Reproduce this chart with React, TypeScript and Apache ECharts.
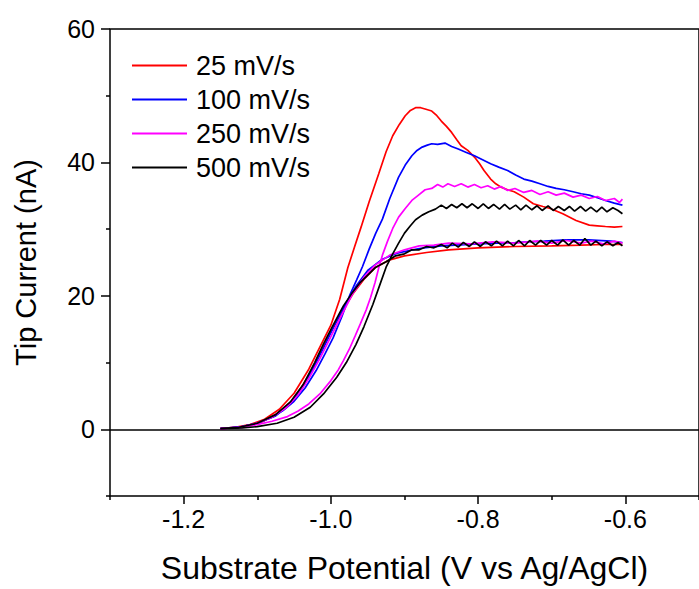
import { useEffect, useRef } from "react";
import * as echarts from "echarts";

const seriesNames = ["25 mV/s", "100 mV/s", "250 mV/s", "500 mV/s"];
const seriesColors = ["#ff0000", "#0000ff", "#ff00ff", "#000000"];

const xMajorTicks = [-1.2, -1.0, -0.8, -0.6];
const xMinorTicks = [-1.3, -1.1, -0.9, -0.7, -0.5];
const yMajorTicks = [0, 20, 40, 60];
const yMinorTicks = [-10, 10, 30, 50];

// 25 mV/s: peaked branch, then plateau branch
const red25Up = [
  [-1.15, 0.1], [-1.13, 0.3], [-1.11, 0.7], [-1.09, 1.5], [-1.07, 3.0], [-1.05, 5.4], [-1.03, 9.0],
  [-1.015, 12.3], [-1.0, 15.6], [-0.988, 19.5], [-0.977, 24.2], [-0.968, 27.3], [-0.959, 30.3],
  [-0.948, 34.1], [-0.935, 38.3], [-0.925, 41.6], [-0.916, 44.0], [-0.907, 45.7], [-0.899, 47.0],
  [-0.892, 47.8], [-0.885, 48.2], [-0.878, 48.2], [-0.872, 48.0], [-0.863, 47.7], [-0.856, 47.0],
  [-0.85, 46.2], [-0.843, 45.4], [-0.836, 44.5], [-0.829, 43.4], [-0.823, 42.5], [-0.814, 41.8],
  [-0.805, 40.8], [-0.798, 39.8], [-0.792, 38.8], [-0.783, 37.5], [-0.776, 36.8], [-0.769, 36.3],
  [-0.76, 35.9], [-0.751, 35.6], [-0.738, 34.8], [-0.725, 33.8], [-0.712, 33.4], [-0.702, 33.1],
  [-0.685, 32.3], [-0.667, 31.3], [-0.649, 30.6], [-0.638, 30.5], [-0.627, 30.4], [-0.615, 30.3],
  [-0.604, 30.4],
];
const red25Down = [
  [-0.604, 27.7], [-0.63, 27.7], [-0.66, 27.6], [-0.7, 27.5], [-0.75, 27.4], [-0.8, 27.2],
  [-0.84, 26.9], [-0.87, 26.5], [-0.9, 26.0], [-0.92, 25.4], [-0.94, 24.2], [-0.955, 22.5],
  [-0.97, 20.3], [-0.985, 17.6], [-1.0, 14.6], [-1.012, 12.0], [-1.025, 9.0], [-1.04, 6.3],
  [-1.055, 4.0], [-1.075, 2.2], [-1.095, 1.0], [-1.12, 0.4], [-1.15, 0.1],
];

const blue100Up = [
  [-1.15, 0.1], [-1.12, 0.4], [-1.1, 0.9], [-1.08, 1.8], [-1.065, 2.8], [-1.05, 4.2], [-1.035, 6.2],
  [-1.02, 8.8], [-1.008, 11.3], [-0.997, 13.7], [-0.985, 16.9], [-0.974, 20.2], [-0.965, 22.4],
  [-0.957, 24.4], [-0.948, 27.0], [-0.939, 29.4], [-0.93, 31.5], [-0.92, 34.6], [-0.908, 37.8],
  [-0.899, 39.6], [-0.89, 41.0], [-0.883, 41.8], [-0.876, 42.3], [-0.869, 42.6], [-0.863, 42.8],
  [-0.855, 42.7], [-0.845, 42.9], [-0.836, 42.4], [-0.827, 42.0], [-0.816, 41.5], [-0.805, 41.0],
  [-0.794, 40.4], [-0.783, 39.8], [-0.772, 39.3], [-0.76, 38.8], [-0.749, 38.1], [-0.738, 37.5],
  [-0.727, 37.2], [-0.716, 36.8], [-0.705, 36.4], [-0.694, 36.1], [-0.683, 35.9], [-0.671, 35.6],
  [-0.66, 35.3], [-0.649, 35.1], [-0.638, 34.7], [-0.627, 34.3], [-0.615, 33.9], [-0.604, 33.6],
];
const blue100Down = [
  [-0.604, 28.0], [-0.62, 28.2], [-0.65, 28.4], [-0.68, 28.4], [-0.71, 28.2], [-0.75, 28.0],
  [-0.8, 27.8], [-0.85, 27.5], [-0.88, 27.1], [-0.91, 26.4], [-0.93, 25.5], [-0.95, 23.8],
  [-0.965, 21.6], [-0.98, 18.8], [-0.995, 15.6], [-1.01, 12.2], [-1.025, 8.9], [-1.04, 6.0],
  [-1.055, 3.8], [-1.075, 2.0], [-1.1, 0.9], [-1.125, 0.3], [-1.15, 0.1],
];

const magenta250Up = [
  [-1.15, 0.1], [-1.12, 0.3], [-1.1, 0.7], [-1.08, 1.2], [-1.059, 1.9], [-1.045, 2.7], [-1.03, 3.8],
  [-1.015, 5.3], [-1.0, 7.3], [-0.99, 8.9], [-0.983, 10.3], [-0.975, 12.0], [-0.967, 14.0],
  [-0.96, 15.8], [-0.952, 17.9], [-0.946, 19.8], [-0.94, 22.0], [-0.935, 24.2], [-0.93, 26.1],
  [-0.923, 28.2], [-0.916, 30.1], [-0.908, 31.8], [-0.899, 33.1], [-0.89, 34.3], [-0.881, 35.1],
  [-0.872, 35.9], [-0.863, 36.1], [-0.855, 36.7], [-0.848, 36.3], [-0.841, 36.8], [-0.832, 36.4],
  [-0.823, 36.8], [-0.814, 36.3], [-0.805, 36.7], [-0.796, 36.2], [-0.787, 36.5], [-0.778, 36.0],
  [-0.769, 36.4], [-0.76, 35.8], [-0.75, 36.1], [-0.738, 35.5], [-0.727, 35.8], [-0.716, 35.2],
  [-0.705, 35.6], [-0.694, 35.1], [-0.683, 35.4], [-0.671, 34.8], [-0.66, 35.1], [-0.649, 34.6],
  [-0.638, 34.9], [-0.627, 34.3], [-0.615, 34.6], [-0.608, 34.0], [-0.604, 34.5],
];
const magenta250Down = [
  [-0.604, 27.9], [-0.615, 28.2], [-0.63, 27.8], [-0.645, 28.2], [-0.66, 27.9], [-0.68, 28.3],
  [-0.7, 27.9], [-0.72, 28.2], [-0.75, 27.9], [-0.78, 28.1], [-0.81, 27.8], [-0.84, 27.9],
  [-0.86, 27.6], [-0.88, 27.5], [-0.9, 26.9], [-0.92, 26.1], [-0.94, 24.6], [-0.955, 22.8],
  [-0.97, 20.4], [-0.985, 17.2], [-1.0, 13.9], [-1.015, 10.6], [-1.03, 7.6], [-1.045, 5.1],
  [-1.06, 3.3], [-1.08, 1.8], [-1.1, 0.9], [-1.125, 0.3], [-1.15, 0.1],
];

const black500Up = [
  [-1.15, 0.1], [-1.12, 0.2], [-1.1, 0.4], [-1.073, 0.9], [-1.05, 1.8], [-1.028, 3.3], [-1.01, 5.3],
  [-0.992, 7.8], [-0.979, 10.0], [-0.966, 12.7], [-0.955, 15.4], [-0.943, 18.7], [-0.934, 21.5],
  [-0.925, 24.3], [-0.916, 26.3], [-0.908, 27.9], [-0.9, 29.4], [-0.892, 30.5], [-0.885, 31.4],
  [-0.876, 32.1], [-0.867, 32.6], [-0.858, 33.0], [-0.85, 33.6], [-0.843, 33.1], [-0.836, 33.7],
  [-0.829, 33.2], [-0.822, 33.8], [-0.815, 33.2], [-0.808, 33.8], [-0.8, 33.1], [-0.793, 33.8],
  [-0.786, 33.1], [-0.779, 33.7], [-0.771, 33.0], [-0.764, 33.7], [-0.757, 33.0], [-0.749, 33.6],
  [-0.742, 32.9], [-0.735, 33.6], [-0.727, 32.9], [-0.72, 33.5], [-0.713, 32.8], [-0.705, 33.5],
  [-0.698, 32.8], [-0.691, 33.4], [-0.683, 32.8], [-0.676, 33.4], [-0.669, 32.7], [-0.661, 33.4],
  [-0.654, 32.7], [-0.647, 33.3], [-0.639, 32.6], [-0.632, 33.3], [-0.625, 32.6], [-0.617, 33.2],
  [-0.61, 32.8], [-0.604, 32.3],
];
const black500Down = [
  [-0.604, 27.5], [-0.61, 28.0], [-0.617, 27.5], [-0.625, 28.1], [-0.632, 27.5], [-0.64, 28.2],
  [-0.647, 27.6], [-0.655, 28.6], [-0.662, 27.6], [-0.67, 28.3], [-0.677, 27.6], [-0.685, 28.4],
  [-0.692, 27.6], [-0.7, 28.3], [-0.707, 27.6], [-0.715, 28.3], [-0.722, 27.6], [-0.73, 28.3],
  [-0.737, 27.5], [-0.745, 28.3], [-0.752, 27.5], [-0.76, 28.2], [-0.767, 27.5], [-0.775, 28.2],
  [-0.782, 27.5], [-0.79, 28.1], [-0.797, 27.4], [-0.805, 28.1], [-0.812, 27.4], [-0.82, 28.0],
  [-0.827, 27.3], [-0.835, 27.9], [-0.842, 27.2], [-0.85, 27.7], [-0.86, 27.2], [-0.87, 27.4],
  [-0.88, 26.9], [-0.89, 26.9], [-0.9, 26.3], [-0.912, 26.0], [-0.925, 25.1], [-0.939, 24.3],
  [-0.95, 23.1], [-0.961, 21.9], [-0.972, 20.3], [-0.983, 18.5], [-0.998, 15.4], [-1.01, 12.8],
  [-1.022, 10.0], [-1.037, 6.8], [-1.055, 4.1], [-1.075, 2.2], [-1.1, 0.9], [-1.125, 0.3],
  [-1.15, 0.1],
];

const branches = [
  [red25Up, red25Down],
  [blue100Up, blue100Down],
  [magenta250Up, magenta250Down],
  [black500Up, black500Down],
];

const FONT = "Liberation Sans";

export default function App() {
  const ref = useRef<HTMLDivElement>(null);

  useEffect(() => {
    if (!ref.current) return;
    const chart = echarts.init(ref.current, null, { renderer: "svg" });

    const tickLabel = { color: "#000", fontSize: 25, fontFamily: FONT };

    const series: any[] = [];
    branches.forEach((pair, i) => {
      pair.forEach((d, j) => {
        series.push({
          name: seriesNames[i],
          type: "line",
          data: d,
          symbol: "none",
          showSymbol: false,
          color: seriesColors[i],
          lineStyle: { color: seriesColors[i], width: 1.7 },
          z: 3 + i,
          ...(i === 0 && j === 0
            ? {
                markLine: {
                  silent: true,
                  symbol: ["none", "none"],
                  label: { show: false },
                  lineStyle: { color: "#000", width: 1.5, type: "solid" },
                  data: [{ yAxis: 0 }],
                },
              }
            : {}),
        });
      });
    });

    chart.setOption({
      animation: false,
      backgroundColor: "#fff",
      grid: {
        left: 110,
        top: 29,
        right: -9,
        bottom: 90,
        show: true,
        borderColor: "#000",
        borderWidth: 1.5,
        backgroundColor: "transparent",
      },
      legend: {
        orient: "vertical",
        left: 132,
        top: 52,
        padding: 0,
        icon: "rect",
        itemWidth: 55,
        itemHeight: 2,
        itemGap: 7,
        data: seriesNames,
        textStyle: { color: "#000", fontSize: 27, fontFamily: FONT, lineHeight: 26, padding: [0, 0, 0, 4] },
      },
      xAxis: [
        {
          type: "value",
          min: -1.3,
          max: -0.5,
          position: "bottom",
          axisLine: { show: false, onZero: false },
          axisTick: {
            show: true,
            inside: false,
            customValues: xMajorTicks,
            length: 8,
            lineStyle: { color: "#000", width: 1.5 },
          },
          axisLabel: {
            ...tickLabel,
            customValues: xMajorTicks,
            margin: 10,
            formatter: (v: number) => v.toFixed(1),
          },
          splitLine: { show: false },
          name: "Substrate Potential (V vs Ag/AgCl)",
          nameLocation: "middle",
          nameGap: 56,
          nameTextStyle: { color: "#000", fontSize: 32, fontFamily: FONT },
        },
        {
          type: "value",
          min: -1.3,
          max: -0.5,
          position: "bottom",
          axisLine: { show: false, onZero: false },
          axisTick: {
            show: true,
            inside: false,
            customValues: xMinorTicks,
            length: 4,
            lineStyle: { color: "#000", width: 1.5 },
          },
          axisLabel: { show: false },
          splitLine: { show: false },
        },
      ],
      yAxis: [
        {
          type: "value",
          min: -10,
          max: 60,
          position: "left",
          axisLine: { show: false, onZero: false },
          axisTick: {
            show: true,
            inside: false,
            customValues: yMajorTicks,
            length: 9,
            lineStyle: { color: "#000", width: 1.5 },
          },
          axisLabel: { ...tickLabel, customValues: yMajorTicks, margin: 15 },
          splitLine: { show: false },
          name: "Tip Current (nA)",
          nameLocation: "middle",
          nameGap: 70,
          nameTextStyle: { color: "#000", fontSize: 29, fontFamily: FONT },
        },
        {
          type: "value",
          min: -10,
          max: 60,
          position: "left",
          axisLine: { show: false, onZero: false },
          axisTick: {
            show: true,
            inside: false,
            customValues: yMinorTicks,
            length: 4,
            lineStyle: { color: "#000", width: 1.5 },
          },
          axisLabel: { show: false },
          splitLine: { show: false },
        },
      ],
      series,
    });

    return () => chart.dispose();
  }, []);

  return (
    <div
      ref={ref}
      style={{ position: "absolute", left: 0, top: 0, width: 699, height: 589 }}
    />
  );
}
